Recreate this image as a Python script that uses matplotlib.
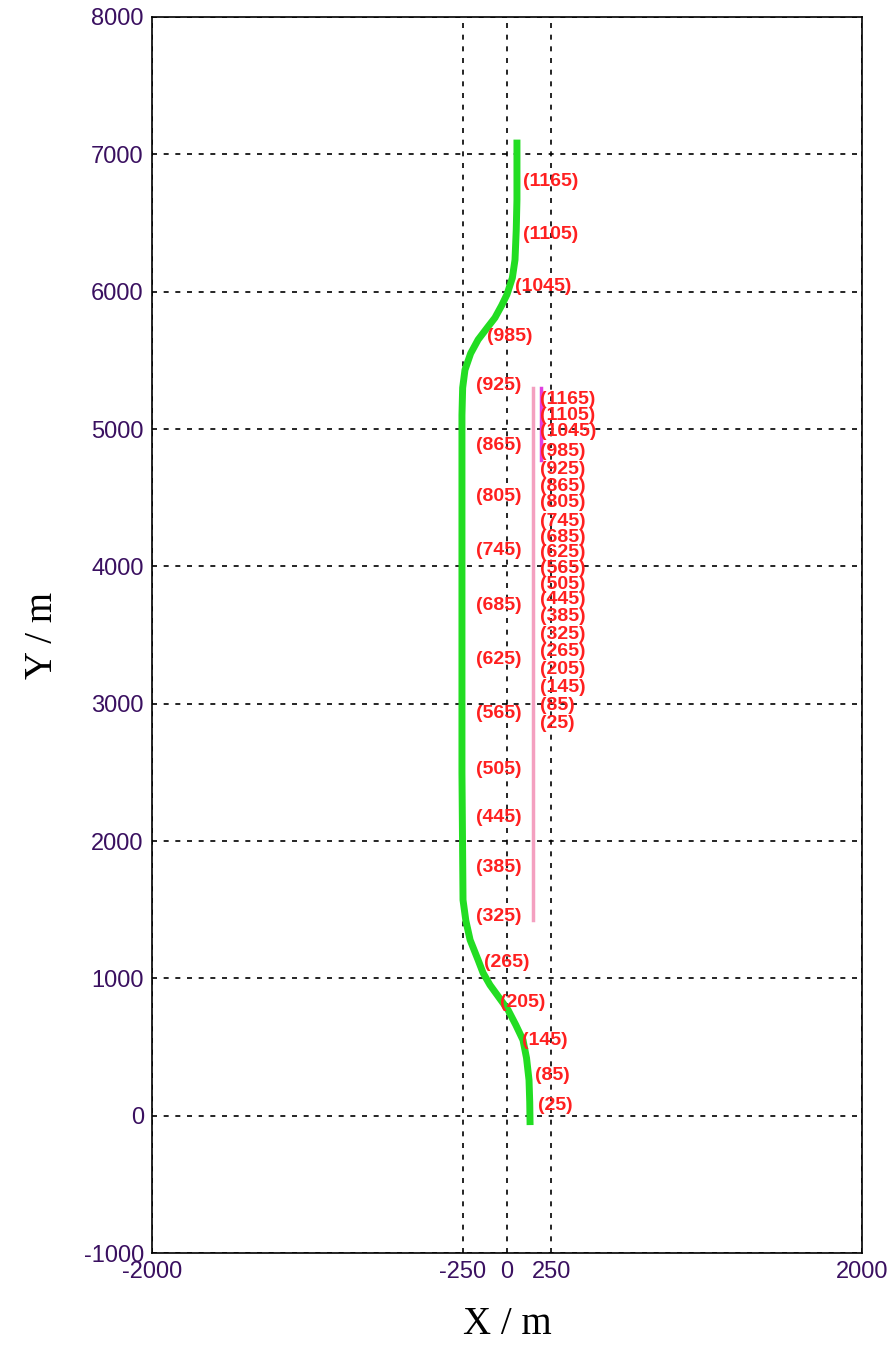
import numpy as np
import matplotlib.pyplot as plt

plt.rcParams['axes.unicode_minus'] = False

# green trajectory
track_x = [130, 128, 124, 110, 90, 50, 6, -50, -96, -135, -163, -208, -232, -248, -254, -254,
           -250, -237, -205, -163, -110, -68, -30, 0, 30, 45, 52, 56, 56]
track_y = [-68, 100, 260, 420, 551, 660, 770, 870, 952, 1040, 1134, 1280, 1420, 1571, 2500, 5100,
           5300, 5430, 5550, 5650, 5740, 5810, 5900, 5980, 6100, 6232, 6450, 6669, 7107]

# frame labels along the green track
label_ids = [25, 85, 145, 205, 265, 325, 385, 445, 505, 565, 625, 685, 745, 805, 865, 925, 985, 1045, 1105, 1165]
green_lab_x = [175, 158, 85, -39, -130, -175, -175, -175, -175, -175, -175, -175, -175, -175, -175, -175, -113, 45, 90, 90]
green_lab_y = [78, 296, 551, 828, 1119, 1454, 1811, 2168, 2518, 2926, 3319, 3712, 4113, 4506, 4878, 5315, 5672, 6036, 6414, 6800]

# stacked labels beside the pink line
pink_lab_x = 186
pink_lab_y = [2853, 2984, 3115, 3246, 3377, 3501, 3632, 3756, 3865, 3982, 4098, 4208, 4324, 4463, 4579, 4703, 4834, 4980, 5096, 5213]

pink_x = [146, 146]
pink_y = [1425, 5300]
mag_x = [190, 190]
mag_y = [4776, 5300]

fig = plt.figure(figsize=(8.95, 13.68), dpi=100)
ax = fig.add_axes([0.170, 0.084, 0.793, 0.9036])

ax.plot(pink_x, pink_y, color='#f4a0c0', lw=2.5, zorder=2)
ax.plot(mag_x, mag_y, color='#e040e0', lw=2.5, zorder=2)
ax.plot(track_x, track_y, color='#22dd22', lw=5, zorder=3, solid_capstyle='butt')

for i, lid in enumerate(label_ids):
    ax.text(green_lab_x[i], green_lab_y[i], f'({lid})', color='#ff2020', fontsize=14,
            fontweight='bold', family='Liberation Sans', va='center', ha='left', zorder=4)
    ax.text(pink_lab_x, pink_lab_y[i], f'({lid})', color='#ff2020', fontsize=14,
            fontweight='bold', family='Liberation Sans', va='center', ha='left', zorder=4)

ax.set_xlim(-2000, 2000)
ax.set_ylim(-1000, 8000)
ax.set_xticks([-2000, -250, 0, 250, 2000])
ax.set_xticklabels(['-2000', '-250', '0', '250', '2000'])
ax.set_yticks(np.arange(-1000, 8001, 1000))
ax.tick_params(length=0, labelsize=17, labelcolor='#3a1060', pad=6)
for lab in ax.get_xticklabels() + ax.get_yticklabels():
    lab.set_family('Liberation Sans')
ax.grid(True, color='black', linestyle=(0, (3, 4)), lw=1.2)
for sp in ax.spines.values():
    sp.set_linewidth(1.2)

ax.set_xlabel('X / m', family='Liberation Serif', fontsize=28, labelpad=16)
ax.set_ylabel('Y / m', family='Liberation Serif', fontsize=28, labelpad=16)

fig.savefig('out.png', dpi=100)
